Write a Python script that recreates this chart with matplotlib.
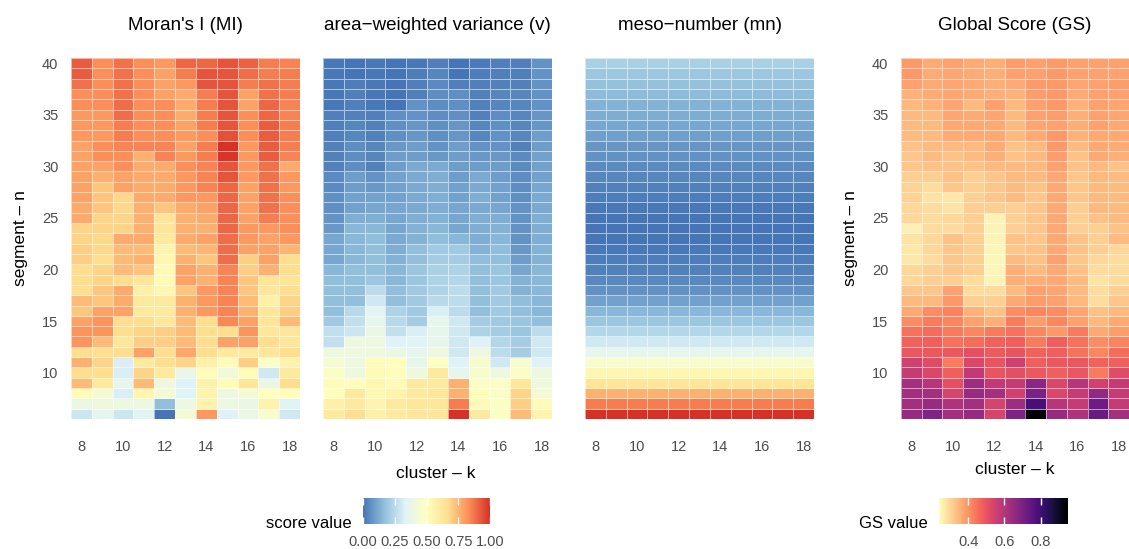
import numpy as np
import matplotlib
matplotlib.use("Agg")
import matplotlib.pyplot as plt
from matplotlib.colors import LinearSegmentedColormap, Normalize
from matplotlib.colorbar import ColorbarBase

plt.rcParams['font.family'] = ['Liberation Sans', 'DejaVu Sans']

# cluster k (columns) and segment n (rows, listed from n=40 down to n=6)
k_vals = np.arange(8, 19)
n_vals = np.arange(40, 5, -1)

# Moran's I, rows n=40 .. n=6
mi_rows = [
    [.92, .83, .88, .83, .81, .90, .90, .93, .91, .86, .85],
    [.92, .83, .88, .83, .79, .86, .93, .93, .89, .86, .86],
    [.88, .83, .88, .83, .79, .81, .93, .93, .86, .88, .86],
    [.83, .83, .88, .83, .79, .77, .86, .93, .79, .88, .86],
    [.83, .83, .89, .83, .83, .77, .86, .93, .79, .90, .85],
    [.81, .81, .89, .83, .83, .77, .86, .93, .83, .90, .85],
    [.81, .81, .86, .83, .83, .79, .86, .93, .83, .92, .86],
    [.81, .81, .86, .83, .83, .81, .83, .94, .83, .92, .86],
    [.79, .83, .85, .85, .85, .79, .86, 1.0, .81, .92, .86],
    [.79, .83, .83, .76, .85, .81, .86, .99, .81, .92, .85],
    [.79, .79, .83, .77, .77, .83, .85, .93, .81, .88, .77],
    [.79, .76, .79, .77, .77, .81, .85, .93, .81, .88, .81],
    [.79, .72, .79, .77, .77, .81, .85, .90, .79, .88, .81],
    [.79, .72, .68, .77, .77, .81, .81, .90, .79, .88, .83],
    [.77, .72, .68, .76, .72, .77, .79, .90, .79, .88, .83],
    [.77, .69, .69, .76, .64, .76, .77, .90, .79, .86, .83],
    [.69, .69, .69, .76, .64, .76, .76, .90, .81, .81, .83],
    [.69, .68, .77, .77, .61, .77, .79, .89, .81, .79, .81],
    [.70, .68, .74, .74, .56, .74, .75, .89, .79, .79, .75],
    [.70, .67, .74, .76, .55, .76, .72, .89, .70, .79, .67],
    [.67, .69, .74, .72, .53, .79, .76, .85, .70, .76, .67],
    [.67, .69, .67, .63, .53, .79, .76, .85, .72, .64, .64],
    [.67, .72, .77, .58, .55, .72, .81, .85, .72, .63, .67],
    [.74, .72, .77, .61, .61, .76, .81, .85, .74, .58, .69],
    [.72, .79, .79, .61, .61, .76, .81, .85, .76, .63, .70],
    [.79, .82, .67, .67, .63, .74, .67, .84, .79, .64, .74],
    [.82, .82, .67, .69, .70, .74, .67, .67, .82, .63, .63],
    [.82, .74, .63, .70, .70, .74, .67, .79, .79, .67, .63],
    [.67, .67, .67, .79, .67, .78, .67, .61, .61, .63, .67],
    [.76, .69, .32, .61, .67, .69, .58, .52, .70, .48, .57],
    [.67, .67, .32, .69, .61, .38, .52, .42, .52, .30, .61],
    [.74, .61, .37, .74, .41, .33, .57, .52, .63, .39, .67],
    [.52, .44, .32, .55, .44, .34, .57, .40, .44, .50, .51],
    [.39, .41, .40, .40, .17, .40, .57, .40, .39, .57, .34],
    [.29, .36, .29, .34, .00, .44, .81, .33, .39, .46, .30],
]

# area-weighted variance, rows n=40 .. n=6
v_rows = [
    [.01, .00, .01, .00, .01, .025, .00, .015, .025, .025, .07],
    [.01, .00, .01, .00, .02, .04, .00, .02, .025, .025, .07],
    [.01, .02, .01, .00, .025, .05, .025, .025, .03, .03, .07],
    [.01, .025, .01, .00, .025, .055, .06, .03, .04, .04, .07],
    [.01, .025, .01, .00, .07, .055, .06, .03, .04, .04, .07],
    [.025, .03, .025, .06, .07, .055, .06, .03, .055, .04, .075],
    [.025, .04, .03, .06, .075, .06, .075, .04, .06, .04, .075],
    [.025, .04, .03, .06, .075, .06, .075, .04, .065, .04, .09],
    [.03, .055, .04, .08, .09, .07, .09, .07, .07, .03, .09],
    [.03, .055, .04, .09, .09, .08, .09, .08, .08, .05, .10],
    [.03, .055, .03, .09, .12, .12, .09, .09, .09, .05, .10],
    [.05, .09, .07, .10, .12, .13, .09, .12, .09, .055, .10],
    [.05, .09, .08, .10, .12, .13, .10, .12, .10, .055, .11],
    [.06, .10, .10, .10, .12, .13, .10, .13, .10, .06, .12],
    [.06, .10, .11, .11, .12, .13, .11, .12, .11, .07, .12],
    [.07, .13, .13, .11, .13, .14, .11, .13, .13, .07, .13],
    [.08, .15, .15, .11, .14, .15, .11, .13, .14, .07, .13],
    [.11, .15, .167, .12, .14, .167, .15, .13, .15, .07, .13],
    [.11, .15, .17, .13, .17, .20, .20, .14, .167, .08, .14],
    [.11, .15, .17, .14, .17, .21, .21, .167, .17, .09, .14],
    [.15, .17, .17, .15, .19, .22, .23, .17, .19, .11, .15],
    [.167, .17, .19, .15, .19, .23, .24, .17, .19, .14, .15],
    [.17, .17, .26, .167, .20, .23, .26, .17, .20, .14, .15],
    [.17, .17, .30, .17, .20, .25, .26, .17, .20, .167, .15],
    [.17, .25, .35, .23, .20, .32, .26, .17, .20, .17, .15],
    [.20, .27, .37, .25, .21, .37, .30, .21, .20, .19, .17],
    [.27, .29, .39, .27, .32, .37, .30, .23, .21, .19, .26],
    [.27, .41, .41, .33, .34, .37, .30, .33, .24, .21, .30],
    [.41, .41, .41, .39, .37, .41, .30, .41, .26, .21, .30],
    [.44, .41, .52, .51, .37, .49, .33, .46, .30, .46, .33],
    [.48, .41, .53, .51, .41, .61, .37, .46, .41, .48, .41],
    [.52, .51, .55, .53, .61, .61, .76, .48, .48, .63, .41],
    [.51, .61, .55, .56, .61, .63, .76, .51, .48, .69, .44],
    [.58, .61, .56, .61, .63, .63, .86, .53, .49, .70, .53],
    [.61, .67, .58, .61, .63, .63, 1.0, .61, .49, .74, .56],
]

# meso-number, one value per n (same across k), n=40 .. n=6
mn_by_n = [.22, .195, .175, .16, .14, .125, .11, .095, .075, .065,
           .05, .04, .03, .02, .01, .003, .0, .003, .01, .02,
           .03, .045, .065, .10, .15, .19, .24, .30, .37, .46,
           .55, .64, .76, .86, 1.0]

# global score, rows n=40 .. n=6
gs_rows = [
    [.39, .365, .38, .365, .36, .385, .38, .39, .38, .38, .38],
    [.395, .365, .375, .365, .36, .38, .38, .395, .38, .38, .38],
    [.38, .365, .375, .365, .36, .365, .39, .395, .375, .38, .385],
    [.355, .365, .375, .365, .36, .355, .385, .395, .365, .38, .38],
    [.345, .355, .375, .345, .38, .345, .38, .395, .355, .38, .375],
    [.345, .345, .375, .365, .375, .345, .38, .385, .36, .38, .375],
    [.345, .345, .37, .37, .37, .345, .375, .38, .36, .38, .37],
    [.34, .34, .365, .365, .37, .345, .365, .395, .355, .37, .37],
    [.33, .34, .345, .345, .365, .33, .345, .395, .34, .37, .365],
    [.325, .34, .33, .34, .36, .33, .345, .385, .33, .37, .36],
    [.325, .33, .33, .33, .345, .345, .345, .38, .33, .345, .33],
    [.31, .31, .33, .31, .325, .345, .34, .37, .325, .345, .34],
    [.305, .29, .325, .31, .325, .34, .33, .37, .325, .345, .34],
    [.305, .28, .275, .31, .325, .34, .325, .37, .325, .345, .34],
    [.30, .29, .28, .31, .31, .31, .325, .37, .31, .345, .34],
    [.30, .29, .30, .31, .255, .31, .325, .37, .31, .33, .34],
    [.26, .29, .29, .31, .255, .31, .325, .37, .31, .31, .33],
    [.28, .30, .33, .31, .255, .33, .325, .37, .33, .31, .34],
    [.275, .30, .325, .31, .25, .325, .33, .37, .33, .31, .30],
    [.275, .29, .325, .31, .25, .34, .33, .38, .325, .30, .29],
    [.30, .31, .325, .31, .25, .36, .34, .37, .33, .29, .29],
    [.30, .31, .31, .29, .255, .36, .36, .37, .34, .28, .29],
    [.325, .325, .38, .29, .29, .34, .38, .375, .34, .29, .31],
    [.345, .345, .395, .31, .31, .37, .385, .38, .345, .29, .325],
    [.37, .41, .425, .355, .33, .41, .42, .41, .375, .33, .345],
    [.41, .435, .42, .38, .36, .435, .385, .42, .38, .345, .37],
    [.45, .46, .435, .42, .435, .45, .42, .395, .435, .37, .385],
    [.475, .48, .45, .46, .475, .48, .435, .48, .45, .41, .425],
    [.495, .49, .495, .51, .485, .50, .475, .48, .45, .42, .46],
    [.55, .52, .435, .53, .50, .555, .48, .49, .495, .475, .48],
    [.57, .53, .48, .58, .50, .51, .49, .48, .495, .435, .52],
    [.63, .595, .51, .64, .58, .57, .67, .53, .595, .55, .57],
    [.63, .63, .54, .65, .63, .55, .70, .53, .57, .66, .57],
    [.63, .65, .61, .63, .54, .64, .79, .595, .57, .72, .57],
    [.65, .69, .63, .65, .54, .69, .95, .65, .61, .73, .63],
]

titles = ["Moran's I (MI)", "area\u2212weighted variance (v)", "meso\u2212number (mn)", "Global Score (GS)"]

score_cmap = LinearSegmentedColormap.from_list(
    "rdylbu_r", ["#4575B4", "#91BFDB", "#E0F3F8", "#FFFFBF", "#FEE090", "#FC8D59", "#D73027"])
gs_cmap = plt.get_cmap("magma_r")
gs_norm = Normalize(0.24, 0.95)
score_norm = Normalize(0, 1)

W, H = 1129, 549
fig = plt.figure(figsize=(W / 100, H / 100), dpi=100)


def px_axes(x0, y0, x1, y1):
    return fig.add_axes([x0 / W, 1 - y1 / H, (x1 - x0) / W, (y1 - y0) / H])


grey = "#4d4d4d"
panels = [
    (71, 300, np.array(mi_rows), score_cmap, score_norm, True),
    (323, 552, np.array(v_rows), score_cmap, score_norm, False),
    (585, 814, np.tile(np.array(mn_by_n)[:, None], (1, len(k_vals))), score_cmap, score_norm, False),
    (901, 1129, np.array(gs_rows), gs_cmap, gs_norm, True),
]

k_edges = np.append(k_vals - 0.5, k_vals[-1] + 0.5)
n_sorted = n_vals[::-1]
n_edges = np.append(n_sorted - 0.5, n_sorted[-1] + 0.5)

for (x0, x1, vals, cmap, norm, show_y), title in zip(panels, titles):
    ax = px_axes(x0, 58, x1, 419)
    ax.pcolormesh(k_edges, n_edges, vals[::-1], cmap=cmap, norm=norm,
                  edgecolors=(1, 1, 1, 0.55), linewidth=0.5)
    ax.set_xlim(k_edges[0], k_edges[-1])
    ax.set_ylim(n_edges[0], n_edges[-1])
    for s in ax.spines.values():
        s.set_visible(False)
    ax.set_xticks([8, 10, 12, 14, 16, 18])
    ax.set_yticks([10, 15, 20, 25, 30, 35, 40])
    ax.tick_params(length=0, labelsize=10.5, labelcolor=grey, pad=15)
    ax.tick_params(axis='y', pad=9)
    if show_y:
        ax.set_ylabel("segment \u2013 n", fontsize=12.5, labelpad=10)
    else:
        ax.set_yticklabels([])
    ax.set_title(title, fontsize=13.5, pad=20)

fig.text(436 / W, 1 - 474 / H, "cluster \u2013 k", fontsize=12.5, ha='center', va='center')
fig.text(1015 / W, 1 - 469 / H, "cluster \u2013 k", fontsize=12.5, ha='center', va='center')

# legends
cax1 = px_axes(363, 498, 490, 524)
cb1 = ColorbarBase(cax1, cmap=score_cmap, norm=score_norm, orientation='horizontal',
                   ticks=[0, 0.25, 0.5, 0.75, 1.0])
cb1.ax.set_xticklabels(["0.00", "0.25", "0.50", "0.75", "1.00"])
fig.text(352 / W, 1 - 523 / H, "score value", fontsize=12, ha='right', va='center')

cax2 = px_axes(939, 498, 1068, 524)
cb2 = ColorbarBase(cax2, cmap=gs_cmap, norm=gs_norm, orientation='horizontal',
                   ticks=[0.4, 0.6, 0.8])
cb2.ax.set_xticklabels(["0.4", "0.6", "0.8"])
fig.text(928 / W, 1 - 523 / H, "GS value", fontsize=12, ha='right', va='center')

for cb in (cb1, cb2):
    cb.outline.set_visible(False)
    cb.ax.tick_params(direction='in', color='white', length=5, width=1,
                      top=True, bottom=True, labelsize=10.5, labelcolor=grey, pad=8)

fig.savefig("out.png", dpi=100)
